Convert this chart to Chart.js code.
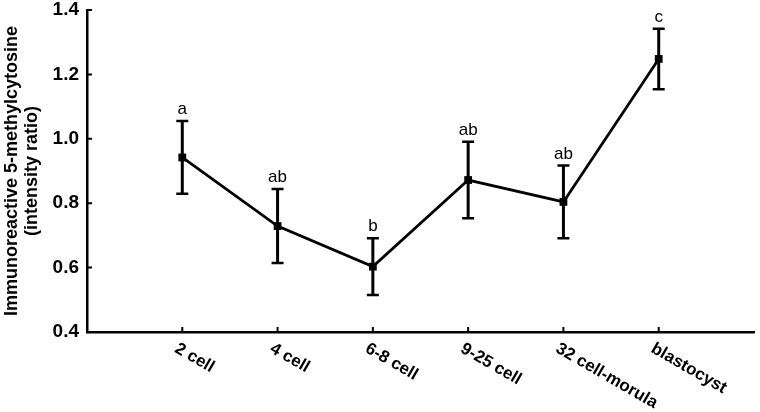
<!DOCTYPE html>
<html>
<head>
<meta charset="utf-8">
<script src="https://cdn.jsdelivr.net/npm/chart.js@4"></script>
<style>
  html, body { margin: 0; padding: 0; background: #fff; }
  #wrap { width: 760px; height: 412px; position: relative; }
</style>
</head>
<body>
<div id="wrap"><canvas id="chart"></canvas></div>
<script>
// Data
const stages = ["2 cell", "4 cell", "6-8 cell", "9-25 cell", "32 cell-morula", "blastocyst"];
const means = [0.942, 0.729, 0.603, 0.872, 0.804, 1.248];
const errors = [0.113, 0.115, 0.088, 0.119, 0.113, 0.094];
const letters = ["a", "ab", "b", "ab", "ab", "c"];
const yTicks = [0.4, 0.6, 0.8, 1.0, 1.2, 1.4];

const FONT = "'Liberation Sans', Arial, sans-serif";

/**
 * Error bars, significance letters, inward tick marks and slanted x labels
 */
const extrasPlugin = {
    id: "extras",
    afterDatasetsDraw(chart) {
        const ctx = chart.ctx;
        const xs = chart.scales.x;
        const ys = chart.scales.y;
        const area = chart.chartArea;

        ctx.save();
        ctx.strokeStyle = "#000";
        ctx.fillStyle = "#000";

        // error bars
        stages.forEach((s, i) => {
            const px = xs.getPixelForValue(i + 1);
            const top = ys.getPixelForValue(means[i] + errors[i]);
            const bot = ys.getPixelForValue(means[i] - errors[i]);
            ctx.lineWidth = 3;
            ctx.beginPath();
            ctx.moveTo(px, top);
            ctx.lineTo(px, bot);
            ctx.stroke();
            ctx.lineWidth = 2.5;
            ctx.beginPath();
            ctx.moveTo(px - 6, top);
            ctx.lineTo(px + 6, top);
            ctx.moveTo(px - 6, bot);
            ctx.lineTo(px + 6, bot);
            ctx.stroke();

            // letter above the cap
            ctx.font = "17px " + FONT;
            ctx.textAlign = "center";
            ctx.textBaseline = "bottom";
            ctx.fillText(letters[i], px, top - 3);
        });

        // inward tick marks
        ctx.lineWidth = 2;
        ctx.beginPath();
        ys.ticks.forEach(t => {
            const py = ys.getPixelForValue(t.value);
            ctx.moveTo(area.left, py);
            ctx.lineTo(area.left + 5, py);
        });
        xs.ticks.forEach(t => {
            const px = xs.getPixelForValue(t.value);
            ctx.moveTo(px, area.bottom);
            ctx.lineTo(px, area.bottom - 5);
        });
        ctx.stroke();

        // slanted category labels
        ctx.font = "bold 17px " + FONT;
        ctx.textAlign = "left";
        ctx.textBaseline = "top";
        stages.forEach((s, i) => {
            const px = xs.getPixelForValue(i + 1);
            ctx.save();
            ctx.translate(px - 2, area.bottom + 8);
            ctx.rotate(30 * Math.PI / 180);
            ctx.fillText(s, 0, 0);
            ctx.restore();
        });
        ctx.restore();
    }
};

const ctx = document.getElementById("chart");
new Chart(ctx, {
    type: "line",
    data: {
        datasets: [{
            data: stages.map((s, i) => ({ x: i + 1, y: means[i] })),
            borderColor: "#000",
            backgroundColor: "#000",
            borderWidth: 2.8,
            tension: 0,
            pointStyle: "rect",
            pointRadius: 5.5,
            pointBorderWidth: 0
        }]
    },
    options: {
        responsive: true,
        maintainAspectRatio: false,
        animation: false,
        layout: { padding: { top: 10, right: 6, left: 0, bottom: 0 } },
        plugins: {
            legend: { display: false },
            tooltip: { enabled: false }
        },
        scales: {
            x: {
                type: "linear",
                min: 0,
                max: 7,
                afterBuildTicks: axis => {
                    axis.ticks = stages.map((s, i) => ({ value: i + 1 }));
                },
                afterFit: axis => { axis.height = 80; },
                ticks: { display: false },
                grid: { display: false, drawTicks: false },
                border: { display: true, color: "#000", width: 2.5 }
            },
            y: {
                min: 0.4,
                max: 1.4,
                afterBuildTicks: axis => {
                    axis.ticks = yTicks.map(v => ({ value: v }));
                },
                afterFit: axis => {
                    axis.width = 87;
                    axis.paddingTop = 0;
                    axis.paddingBottom = 0;
                },
                ticks: {
                    color: "#000",
                    padding: 8,
                    font: { family: FONT, size: 19, weight: "bold" },
                    callback: v => Number(v).toFixed(1)
                },
                grid: { display: false, drawTicks: false },
                border: { display: true, color: "#000", width: 2.5 },
                title: {
                    display: true,
                    text: ["Immunoreactive 5-methylcytosine", "(intensity ratio)"],
                    color: "#000",
                    padding: { top: 2, bottom: 0 },
                    font: { family: FONT, size: 18, weight: "bold", lineHeight: 1.1 }
                }
            }
        }
    },
    plugins: [extrasPlugin]
});
</script>
</body>
</html>
